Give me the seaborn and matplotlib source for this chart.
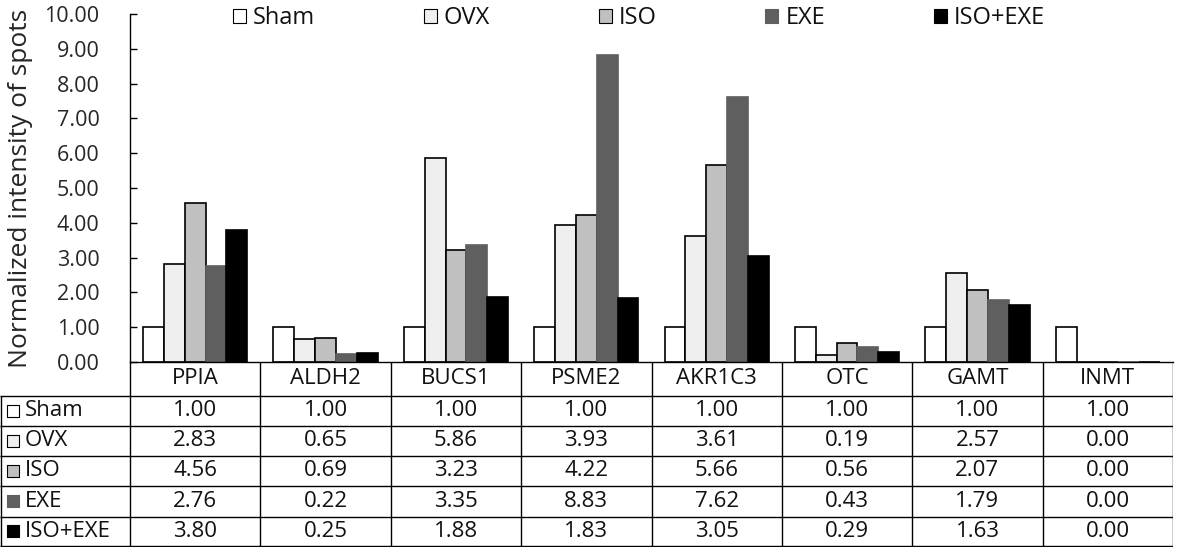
import matplotlib
matplotlib.use("Agg")
import matplotlib.pyplot as plt
from matplotlib.patches import Patch
import numpy as np
import pandas as pd
import seaborn as sns

# ── Data ──
proteins = ["PPIA", "ALDH2", "BUCS1", "PSME2", "AKR1C3", "OTC", "GAMT", "INMT"]
groups = ["Sham", "OVX", "ISO", "EXE", "ISO+EXE"]
sham = [1.00, 1.00, 1.00, 1.00, 1.00, 1.00, 1.00, 1.00]
ovx = [2.83, 0.65, 5.86, 3.93, 3.61, 0.19, 2.57, 0.00]
iso = [4.56, 0.69, 3.23, 4.22, 5.66, 0.56, 2.07, 0.00]
exe = [2.76, 0.22, 3.35, 8.83, 7.62, 0.43, 1.79, 0.00]
iso_exe = [3.80, 0.25, 1.88, 1.83, 3.05, 0.29, 1.63, 0.00]
colors = ["#ffffff", "#efefef", "#c0c0c0", "#5f5f5f", "#000000"]

series = [sham, ovx, iso, exe, iso_exe]
df = pd.DataFrame({
    "Protein": proteins * len(groups),
    "Group": [g for g in groups for _ in proteins],
    "Value": [v for s in series for v in s],
})

sns.set_style("white")
plt.rcParams["font.family"] = ["Open Sans", "DejaVu Sans"]
plt.rcParams["text.color"] = "#111111"

W, H = 1200, 547
fig = plt.figure(figsize=(W / 100, H / 100), dpi=100)

# plot area in pixels
x0, x1, y_top, y_bot = 130, 1173, 14, 362
ax = fig.add_axes([x0 / W, 1 - y_bot / H, (x1 - x0) / W, (y_bot - y_top) / H])

sns.barplot(data=df, x="Protein", y="Value", hue="Group", palette=colors,
            edgecolor="black", linewidth=1.2, width=0.8, ax=ax, legend=False)
# dark bars have no visible outline
for cont, c in zip(ax.containers, colors):
    if c in ("#5f5f5f", "#000000"):
        for p in cont:
            p.set_edgecolor(c)

ax.set_xlim(-0.5, len(proteins) - 0.5)
ax.set_ylim(0, 10)
ax.set_yticks(np.arange(0, 11, 1))
ax.set_yticklabels([f"{v:.2f}" for v in np.arange(0, 11, 1)], fontsize=15.5)
ax.tick_params(axis="y", direction="in", length=5, width=1, color="black", pad=22, left=True)
ax.set_xticks([])
ax.set_xlabel("")
ax.set_ylabel("Normalized intensity of spots", fontsize=19)
ax.yaxis.set_label_coords((33 - x0) / (x1 - x0), 0.5)
for side in ("top", "right"):
    ax.spines[side].set_visible(False)
for side in ("left", "bottom"):
    ax.spines[side].set_color("black")
    ax.spines[side].set_linewidth(1)

# ── Legend ──
handles = [Patch(facecolor=c, edgecolor=("black" if c != "#5f5f5f" else c), linewidth=0.8)
           for c in colors]
fig.legend(handles, groups, loc="upper left", bbox_to_anchor=(233 / W, 1 - 6 / H),
           ncol=5, frameon=False, fontsize=17, handlelength=0.55, handleheight=0.55,
           handletextpad=0.3, columnspacing=4.6, borderpad=0, borderaxespad=0)

# ── Data table ──
unit = (x1 - x0) / len(proteins)
tab = fig.add_axes([0, 0, x1 / W, (H - y_bot) / H])
tab.set_xlim(-0.5 - x0 / unit, len(proteins) - 0.5)
tab.set_ylim(H, y_bot)
tab.axis("off")

row_lines = [396, 425.5, 456, 486, 516.5, 546]
lw = 1.0
left = -0.5 - x0 / unit
for yl in row_lines:
    tab.plot([left, len(proteins) - 0.5], [yl, yl], color="black", lw=lw, solid_capstyle="butt")
for i in range(len(proteins) + 1):
    tab.plot([i - 0.5, i - 0.5], [y_bot, row_lines[-1]], color="black", lw=lw)
tab.plot([left + 0.01, left + 0.01], [row_lines[0], row_lines[-1]], color="black", lw=lw)

for i, name in enumerate(proteins):
    tab.text(i, (y_bot + row_lines[0]) / 2, name, ha="center", va="center", fontsize=16)

for r, (g, s, c) in enumerate(zip(groups, series, colors)):
    yc = (row_lines[r] + row_lines[r + 1]) / 2
    tab.scatter([left + 13.5 / unit], [yc], marker="s", s=80, color=c,
                edgecolors=("black" if c != "#5f5f5f" else c), linewidths=0.8, zorder=3)
    tab.text(left + 25 / unit, yc, g, ha="left", va="center", fontsize=16)
    for i, v in enumerate(s):
        tab.text(i, yc, f"{v:.2f}", ha="center", va="center", fontsize=16)

fig.savefig("out.png", dpi=100)
